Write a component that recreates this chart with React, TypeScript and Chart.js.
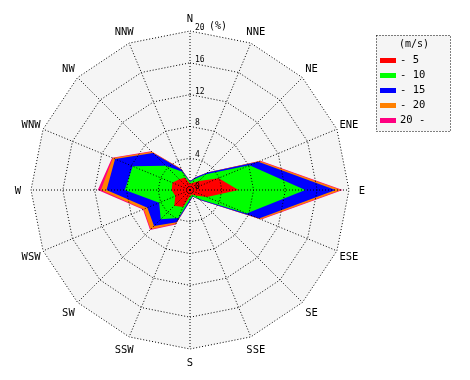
import React, { useEffect, useRef } from "react";
import { Chart, registerables } from "chart.js";

Chart.register(...registerables);

// 16 wind directions (clockwise from north)
const directions = ["N", "NNE", "NE", "ENE", "E", "ESE", "SE", "SSE", "S", "SSW", "SW", "WSW", "W", "WNW", "NW", "NNW"];

// Wind-speed classes (m/s) and their colours
const speedClasses = ["- 5", "- 10", "- 15", "- 20", "20 -"];
const classColors = ["#ff0000", "#00ff00", "#0000ff", "#ff8000", "#ff0080"];

// Radial tick values (%)
const tickValues = [0, 4, 8, 12, 16, 20];

// Frequency (%) of each speed class per direction
const freqUpTo5 = [0.8, 1.0, 1.6, 3.9, 6.1, 2.3, 1.0, 0.6, 0.8, 2.3, 2.8, 2.0, 2.3, 2.4, 1.9, 1.7];
const freq5to10 = [0.2, 0.5, 1.2, 4.2, 8.4, 5.4, 0.6, 0.2, 0.4, 1.5, 2.4, 2.2, 5.9, 5.4, 2.4, 0.8];
const freq10to15 = [0.1, 0.2, 0.3, 1.2, 3.8, 1.7, 0.2, 0.1, 0.2, 0.6, 1.2, 1.6, 2.3, 2.4, 2.3, 0.3];
const freq15to20 = [0.0, 0.0, 0.0, 0.2, 0.7, 0.2, 0.0, 0.0, 0.0, 0.2, 0.6, 0.5, 0.7, 0.3, 0.2, 0.1];
const freqOver20 = [0.0, 0.0, 0.0, 0.1, 0.2, 0.1, 0.0, 0.0, 0.0, 0.1, 0.1, 0.1, 0.4, 0.1, 0.1, 0.0];

const perClass = [freqUpTo5, freq5to10, freq10to15, freq15to20, freqOver20];

// cumulative (stacked) totals for the rose
const cumulative: number[][] = [];
perClass.forEach((arr, k) => {
  cumulative.push(arr.map((v, i) => +(v + (k > 0 ? cumulative[k - 1][i] : 0)).toFixed(2)));
});

const MONO = '"DejaVu Sans Mono", monospace';

const roseDecor = {
  id: "roseDecor",
  beforeDatasetsDraw(chart: any) {
    const s = chart.scales.r;
    const ctx = chart.ctx;
    ctx.save();
    ctx.fillStyle = "#f5f5f5";
    ctx.beginPath();
    directions.forEach((_, i) => {
      const p = s.getPointPositionForValue(i, s.max);
      if (i === 0) ctx.moveTo(p.x, p.y);
      else ctx.lineTo(p.x, p.y);
    });
    ctx.closePath();
    ctx.fill();
    ctx.restore();
  },
  afterDraw(chart: any) {
    const s = chart.scales.r;
    const ctx = chart.ctx;
    ctx.save();
    // tick labels along the north axis
    ctx.fillStyle = "#000";
    ctx.textAlign = "left";
    ctx.textBaseline = "alphabetic";
    tickValues.forEach((v) => {
      const y = s.yCenter - s.getDistanceFromCenterForValue(v);
      ctx.font = `8px ${MONO}`;
      ctx.fillText(String(v), s.xCenter + 5, y - 1);
      if (v === s.max) {
        ctx.font = `10px ${MONO}`;
        ctx.fillText("(%)", s.xCenter + 19, y - 2);
      }
    });
    // direction labels
    ctx.font = `10.5px ${MONO}`;
    ctx.textAlign = "center";
    directions.forEach((d, i) => {
      const p = s.getPointPosition(i, s.drawingArea + 13);
      ctx.fillText(d, p.x, p.y + 4);
    });
    // legend
    const lx = 376, ly = 35, lw = 74, lh = 96;
    ctx.fillStyle = "#f5f5f5";
    ctx.fillRect(lx, ly, lw, lh);
    ctx.strokeStyle = "#000";
    ctx.lineWidth = 1;
    ctx.setLineDash([1, 2]);
    ctx.strokeRect(lx + 0.5, ly + 0.5, lw, lh);
    ctx.setLineDash([]);
    ctx.fillStyle = "#000";
    ctx.font = `10px ${MONO}`;
    ctx.textAlign = "center";
    ctx.fillText("(m/s)", 414, 47);
    ctx.textAlign = "left";
    ctx.font = `10.5px ${MONO}`;
    chart.data.datasets.forEach((ds: any, k: number) => {
      const y = 58 + 15 * k;
      ctx.fillStyle = ds.backgroundColor;
      ctx.fillRect(380, y, 16, 5);
      ctx.fillStyle = "#000";
      ctx.fillText(ds.label, 400, y + 5);
    });
    ctx.restore();
  },
};

export default function App() {
  const ref = useRef<HTMLCanvasElement | null>(null);
  useEffect(() => {
    if (!ref.current) return;
    const chart = new Chart(ref.current, {
      type: "radar",
      data: {
        labels: directions,
        datasets: speedClasses.map((label, k) => ({
          label,
          data: cumulative[k],
          backgroundColor: classColors[k],
          borderColor: "rgba(0,0,0,0)",
          borderWidth: 0,
          pointRadius: 0,
          pointHitRadius: 0,
          fill: "origin",
          tension: 0,
        })),
      },
      options: {
        responsive: false,
        animation: false,
        events: [],
        layout: { padding: { left: 31, top: 31, right: 121, bottom: 31 } },
        plugins: { legend: { display: false }, tooltip: { enabled: false } },
        scales: {
          r: {
            min: 0,
            max: 20,
            ticks: { display: false, stepSize: 4 },
            pointLabels: { display: false },
            grid: { color: "#000", lineWidth: 1, z: 1, borderDash: [1, 2] } as any,
            border: { dash: [1, 2] } as any,
            angleLines: { color: "#000", lineWidth: 1, borderDash: [1, 2] },
          },
        },
      },
      plugins: [roseDecor],
    });
    return () => chart.destroy();
  }, []);
  return (
    <div style={{ position: "absolute", left: 0, top: 0, width: 470, height: 380, background: "#fff" }}>
      <canvas ref={ref} width={470} height={380} style={{ display: "block" }} />
    </div>
  );
}
